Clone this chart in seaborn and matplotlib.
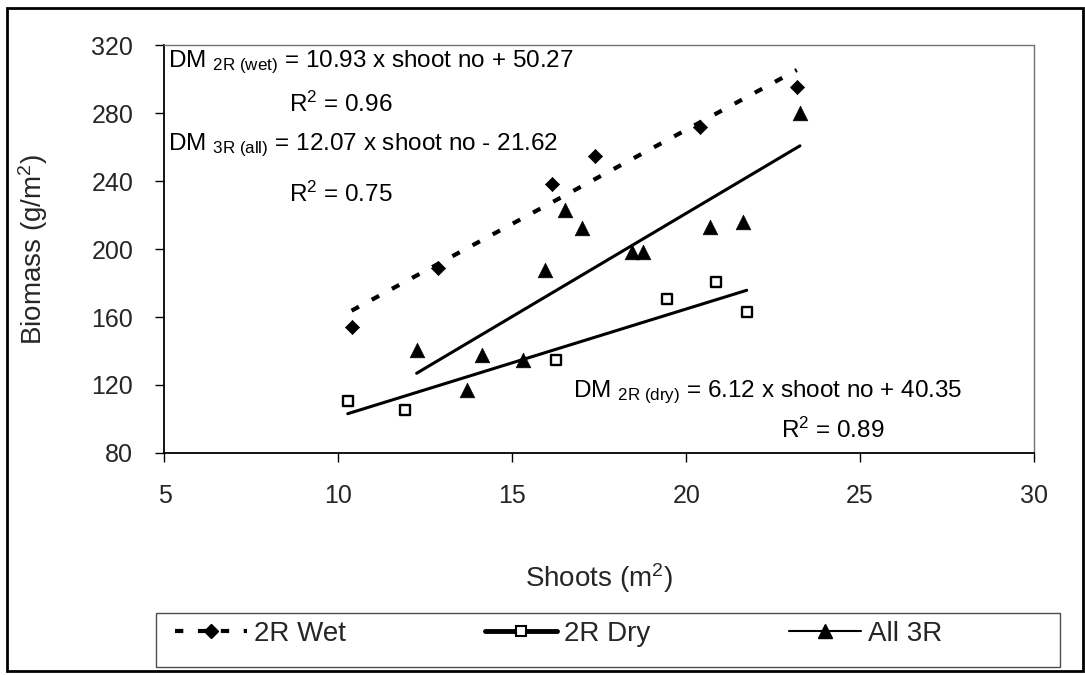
import matplotlib
matplotlib.use("Agg")
import numpy as np
import pandas as pd
import seaborn as sns
import matplotlib.pyplot as plt
from matplotlib.lines import Line2D
from matplotlib.patches import Rectangle

# ---------------- data ----------------
wet_shoots = [10.38, 12.87, 16.13, 17.38, 20.40, 23.18]
wet_biomass = [154.3, 188.6, 238.2, 254.7, 272.0, 295.5]

dry_shoots = [10.27, 11.91, 16.26, 19.44, 20.86, 21.74]
dry_biomass = [110.6, 105.3, 134.5, 170.4, 180.8, 163.1]

all_shoots = [12.25, 13.69, 14.12, 15.32, 15.94, 16.52, 17.00, 18.43, 18.77, 20.68, 21.63, 23.27]
all_biomass = [140.6, 117.1, 137.6, 134.7, 187.6, 222.9, 212.4, 198.4, 198.4, 213.1, 216.1, 280.0]

series_labels = ["2R Wet", "2R Dry", "All 3R"]
x_ticks = [5, 10, 15, 20, 25, 30]
y_ticks = [80, 120, 160, 200, 240, 280, 320]

eq_texts = [
    r"DM $_{\mathregular{2R\ (wet)}}$ = 10.93 x shoot no + 50.27",
    r"R$^{\mathregular{2}}$ = 0.96",
    r"DM $_{\mathregular{3R\ (all)}}$ = 12.07 x shoot no - 21.62",
    r"R$^{\mathregular{2}}$ = 0.75",
    r"DM $_{\mathregular{2R\ (dry)}}$ = 6.12 x shoot no + 40.35",
    r"R$^{\mathregular{2}}$ = 0.89",
]
eq_x = [5.10, 8.58, 5.10, 8.58, 16.75, 22.73]
eq_y = [306.9, 280.8, 258.2, 227.8, 113.1, 88.8]

# ---------------- style ----------------
sns.set_style("white")
plt.rcParams["font.family"] = ["Liberation Sans", "DejaVu Sans"]
plt.rcParams["mathtext.fontset"] = "custom"
plt.rcParams["mathtext.rm"] = "Liberation Sans"
plt.rcParams["mathtext.it"] = "Liberation Sans:italic"
plt.rcParams["mathtext.bf"] = "Liberation Sans:bold"

FS = 18
fig = plt.figure(figsize=(10.85, 6.75), dpi=100)
ax = fig.add_axes([0.1516, 0.3289, 0.8014, 0.6044])

dash = (0, (2, 3.5))

# trend lines (least squares fits computed by seaborn)
sns.regplot(x=wet_shoots, y=wet_biomass, ax=ax, scatter=False, ci=None, truncate=True,
            line_kws=dict(color="black", lw=3, ls=dash, dash_capstyle="butt"))
sns.regplot(x=dry_shoots, y=dry_biomass, ax=ax, scatter=False, ci=None, truncate=True,
            line_kws=dict(color="black", lw=2.2))
sns.regplot(x=all_shoots, y=all_biomass, ax=ax, scatter=False, ci=None, truncate=True,
            line_kws=dict(color="black", lw=2.2))

# markers
sns.scatterplot(x=wet_shoots, y=wet_biomass, ax=ax, marker="D", s=7.2 ** 2,
                color="black", edgecolor="black", linewidth=0.5, zorder=4)
sns.scatterplot(x=dry_shoots, y=dry_biomass, ax=ax, marker="s", s=7.3 ** 2,
                color="white", edgecolor="black", linewidth=1.7, zorder=4)
sns.scatterplot(x=all_shoots, y=all_biomass, ax=ax, marker="^", s=10.5 ** 2,
                color="black", edgecolor="black", linewidth=0.5, zorder=4)

ax.set_xlim(x_ticks[0], x_ticks[-1])
ax.set_ylim(y_ticks[0], y_ticks[-1])
ax.set_xticks(x_ticks)
ax.set_yticks(y_ticks)
ax.tick_params(axis="both", direction="out", length=6.5, width=1, color="black",
               labelsize=FS, pad=16, bottom=True, left=True)

for side in ["left", "bottom"]:
    ax.spines[side].set_color("black")
    ax.spines[side].set_linewidth(1.3)
for side in ["top", "right"]:
    ax.spines[side].set_color("0.45")
    ax.spines[side].set_linewidth(1.0)
    ax.spines[side].set_linestyle((0, (1, 1)))

ax.set_xlabel(r"Shoots (m$^{\mathregular{2}}$)", fontsize=20)
ax.set_ylabel(r"Biomass (g/m$^{\mathregular{2}}$)", fontsize=20)
ax.xaxis.set_label_coords(0.5, -0.306)
ax.xaxis.label.set_va("center")
ax.yaxis.set_label_coords(-0.151, 0.5)
ax.yaxis.label.set_va("center")

for s, x, y in zip(eq_texts, eq_x, eq_y):
    ax.text(x, y, s, fontsize=17.5, ha="left", va="baseline", color="black", zorder=5)

# legend
h_wet = Line2D([], [], color="black", lw=3, ls=dash, marker="D", ms=7.2)
h_dry = Line2D([], [], color="black", lw=3.5, marker="s", ms=7, mfc="white",
               mec="black", mew=1.5)
h_all = Line2D([], [], color="black", lw=1.5, marker="^", ms=10)
fig.legend([h_wet, h_dry, h_all], series_labels, loc="center left",
           bbox_to_anchor=(0.1613, 0.0607), ncol=3, frameon=False, fontsize=20,
           handlelength=2.6, handletextpad=0.25, columnspacing=5.0,
           borderaxespad=0, borderpad=0, numpoints=1)

fig.add_artist(Rectangle((0.1438, 0.0119), 0.8332, 0.080, transform=fig.transFigure,
                         fill=False, edgecolor="0.3", lw=1.0))
fig.add_artist(Rectangle((0.0065, 0.0059), 0.9917, 0.9820, transform=fig.transFigure,
                         fill=False, edgecolor="black", lw=2.0))

fig.savefig("out.png", dpi=100)
